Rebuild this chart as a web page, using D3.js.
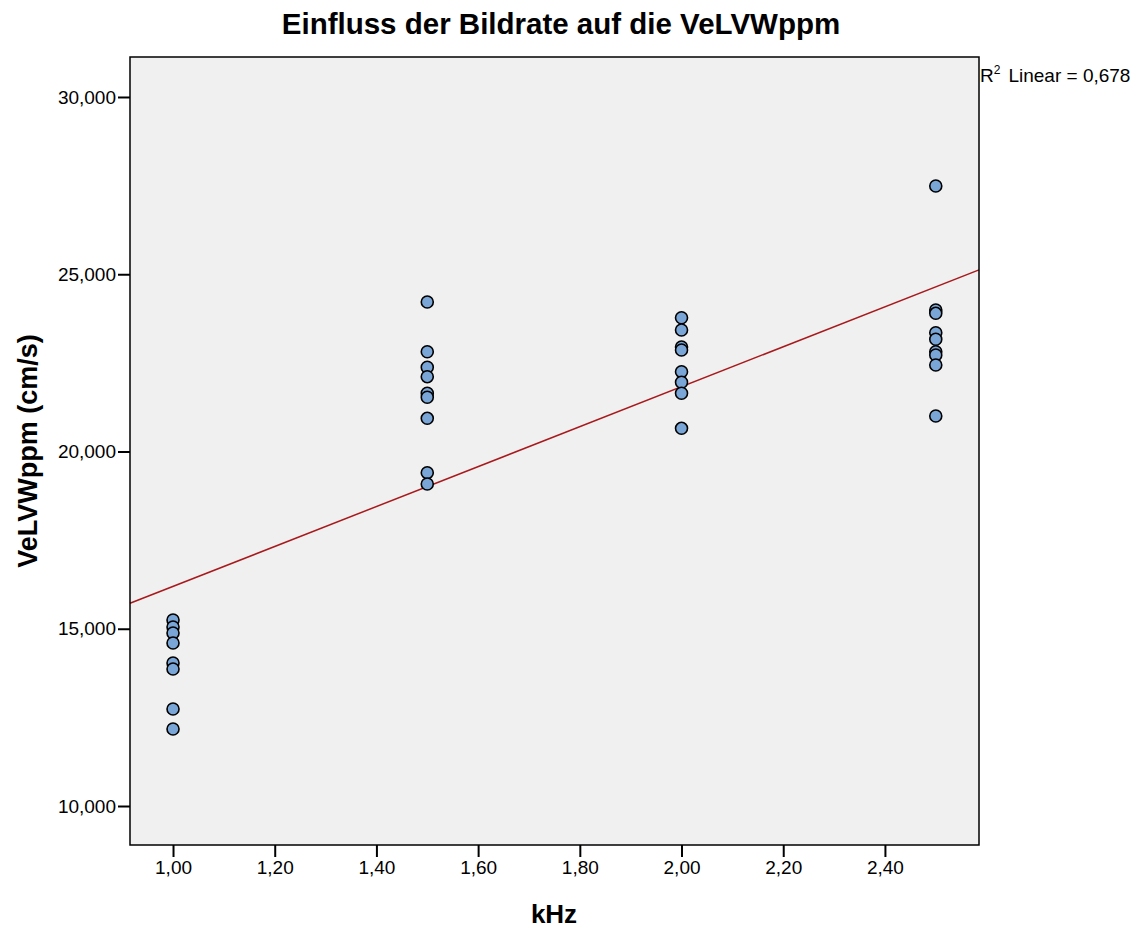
<!DOCTYPE html>
<html>
<head>
<meta charset="utf-8">
<script src="https://cdn.jsdelivr.net/npm/d3@7"></script>
<style>
  html, body { margin: 0; padding: 0; background: #ffffff; }
  svg { display: block; font-family: Arial, "Liberation Sans", Helvetica, sans-serif; }
</style>
</head>
<body>
<svg id="chart" width="1146" height="929"></svg>
<script>
// Frame rate (kHz) groups and the measured VeLVWppm values (cm/s)
const khz1_00 = [15247, 15049, 14880, 14598, 14034, 13865, 12736, 12172];
const khz1_50 = [24217, 22815, 22375, 22110, 21642, 21529, 20936, 19402, 19083];
const khz2_00 = [23774, 23427, 22948, 22863, 22251, 21952, 21642, 20654];
const khz2_50 = [27489, 23991, 23898, 23351, 23165, 22815, 22722, 22440, 21001];
const groupX = [1.0, 1.5, 2.0, 2.5];

const xTicks = [1.0, 1.2, 1.4, 1.6, 1.8, 2.0, 2.2, 2.4];
const xTickLabels = ["1,00", "1,20", "1,40", "1,60", "1,80", "2,00", "2,20", "2,40"];
const yTicks = [10000, 15000, 20000, 25000, 30000];
const yTickLabels = ["10,000", "15,000", "20,000", "25,000", "30,000"];

const titleText = "Einfluss der Bildrate auf die VeLVWppm";
const xLabel = "kHz";
const yLabel = "VeLVWppm (cm/s)";
const r2Text = "Linear = 0,678";

const points = [];
[khz1_00, khz1_50, khz2_00, khz2_50].forEach((vals, i) => {
  vals.forEach(v => points.push({ x: groupX[i], y: v }));
});

const svg = d3.select("#chart");
const plotL = 130, plotR = 979, plotT = 57, plotB = 845;

const x = d3.scaleLinear().domain([0.9154, 2.585]).range([plotL, plotR]);
const y = d3.scaleLinear().domain([8900, 31128]).range([plotB, plotT]);

// plot area
svg.append("rect")
  .attr("x", plotL).attr("y", plotT)
  .attr("width", plotR - plotL).attr("height", plotB - plotT)
  .attr("fill", "#f0f0f0");

// least-squares fit line
const mx = d3.mean(points, d => d.x), my = d3.mean(points, d => d.y);
const sxy = d3.sum(points, d => (d.x - mx) * (d.y - my));
const sxx = d3.sum(points, d => (d.x - mx) ** 2);
const slope = sxy / sxx, icpt = my - slope * mx;
const [dx0, dx1] = x.domain();
svg.append("line")
  .attr("x1", x(dx0)).attr("y1", y(icpt + slope * dx0))
  .attr("x2", x(dx1)).attr("y2", y(icpt + slope * dx1))
  .attr("stroke", "#a8191c").attr("stroke-width", 1.5);

// points
svg.append("g").selectAll("circle")
  .data(points).join("circle")
  .attr("cx", d => x(d.x)).attr("cy", d => y(d.y))
  .attr("r", 6)
  .attr("fill", "#79a6d6")
  .attr("stroke", "#000").attr("stroke-width", 1.6);

// frame
svg.append("rect")
  .attr("x", plotL).attr("y", plotT)
  .attr("width", plotR - plotL).attr("height", plotB - plotT)
  .attr("fill", "none").attr("stroke", "#000").attr("stroke-width", 1.5);

// axes
const xAxis = d3.axisBottom(x).tickValues(xTicks)
  .tickFormat((d, i) => xTickLabels[i]).tickSizeOuter(0).tickSizeInner(12).tickPadding(4);
const gx = svg.append("g").attr("transform", `translate(0,${plotB})`).call(xAxis);
gx.select(".domain").remove();
gx.selectAll(".tick line").attr("stroke", "#000").attr("stroke-width", 2);
gx.selectAll(".tick text").attr("font-size", 19).attr("fill", "#000")
  .attr("font-family", "Arial, 'Liberation Sans', sans-serif");

const yAxis = d3.axisLeft(y).tickValues(yTicks)
  .tickFormat((d, i) => yTickLabels[i]).tickSizeOuter(0).tickSizeInner(12).tickPadding(2);
const gy = svg.append("g").attr("transform", `translate(${plotL},0)`).call(yAxis);
gy.select(".domain").remove();
gy.selectAll(".tick line").attr("stroke", "#000").attr("stroke-width", 2);
gy.selectAll(".tick text").attr("font-size", 19).attr("fill", "#000")
  .attr("font-family", "Arial, 'Liberation Sans', sans-serif");

// titles
svg.append("text").attr("x", 561).attr("y", 34)
  .attr("text-anchor", "middle").attr("font-size", 29.5).attr("font-weight", "bold")
  .text(titleText);
svg.append("text").attr("x", 554).attr("y", 923)
  .attr("text-anchor", "middle").attr("font-size", 26).attr("font-weight", "bold")
  .text(xLabel);
svg.append("text")
  .attr("transform", "translate(37,451) rotate(-90)")
  .attr("text-anchor", "middle").attr("font-size", 27).attr("font-weight", "bold")
  .text(yLabel);

// R² annotation
const r2 = svg.append("text").attr("x", 980).attr("y", 82).attr("font-size", 19);
r2.append("tspan").text("R");
r2.append("tspan").attr("font-size", 12).attr("dy", -8).text("2");
r2.append("tspan").attr("dy", 8).attr("dx", 8).text(r2Text);
</script>
</body>
</html>
